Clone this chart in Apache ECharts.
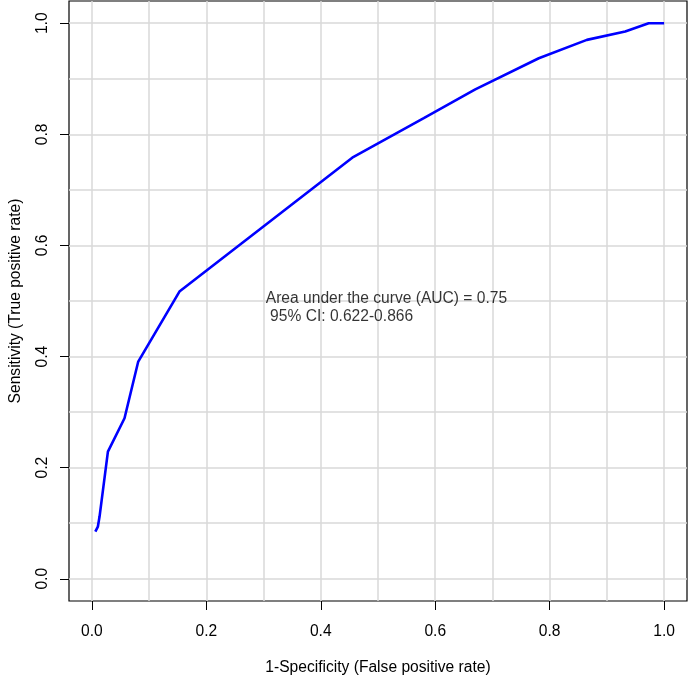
<!DOCTYPE html>
<html>
<head>
<meta charset="utf-8">
<script src="https://cdn.jsdelivr.net/npm/echarts@6/dist/echarts.min.js"></script>
<style>
html,body{margin:0;padding:0;background:#fff;}
#chart{width:690px;height:678px;}
</style>
</head>
<body>
<div id="chart"></div>
<script>
// ROC curve points
var fpr = [0.006, 0.0105, 0.0134, 0.028, 0.057, 0.081, 0.153, 0.455, 0.580, 0.670, 0.781, 0.865, 0.932, 0.973, 1.0];
var tpr = [0.085, 0.094, 0.112, 0.229, 0.289, 0.391, 0.517, 0.758, 0.829, 0.881, 0.937, 0.970, 0.985, 1.0, 1.0];
var tickLabels = [0, 0.2, 0.4, 0.6, 0.8, 1.0];
var gridValues = [0, 0.1, 0.2, 0.3, 0.4, 0.5, 0.6, 0.7, 0.8, 0.9, 1.0];
var annotationPos = [0.303, 0.488];
var annotationLines = ['Area under the curve (AUC) = 0.75', ' 95% CI: 0.622-0.866'];
var xTitle = '1-Specificity (False positive rate)';
var yTitle = 'Sensitivity (True positive rate)';

var FONT = 'Liberation Sans';
var FS = 15.6;
var chart = echarts.init(document.getElementById('chart'), null, {renderer: 'canvas'});
var rocData = fpr.map(function (x, i) { return [x, tpr[i]]; });

function mainAxis(isX) {
  return {
    type: 'value', min: -0.04, max: 1.04,
    position: isX ? 'bottom' : 'left',
    axisLine: {show: false, onZero: false},
    axisTick: {show: true, length: 9, customValues: tickLabels, lineStyle: {color: '#000', width: 1}},
    axisLabel: {
      customValues: tickLabels, formatter: function (v) { return v.toFixed(1); },
      fontFamily: FONT, fontSize: FS, color: '#000',
      margin: isX ? 23 : 18, rotate: isX ? 0 : 90
    },
    splitLine: {show: false},
    name: isX ? xTitle : yTitle,
    nameLocation: 'middle',
    nameGap: isX ? 59 : 45,
    nameTextStyle: {fontFamily: FONT, fontSize: FS, color: '#000'}
  };
}
function gridAxis(isX) {
  return {
    type: 'value', min: -0.04, max: 1.04,
    position: isX ? 'top' : 'right',
    axisLine: {show: false, onZero: false},
    axisTick: {show: false, customValues: gridValues},
    axisLabel: {show: false},
    splitLine: {show: true, lineStyle: {color: '#d9d9d9', width: 1.5}}
  };
}

chart.setOption({
  animation: false,
  backgroundColor: '#fff',
  grid: {left: 69, right: 3, top: 1, bottom: 77, show: true, borderColor: '#000', borderWidth: 1.2,
         backgroundColor: 'transparent', containLabel: false, outerBoundsMode: 'none'},
  xAxis: [mainAxis(true), gridAxis(true)],
  yAxis: [mainAxis(false), gridAxis(false)],
  series: [
    {
      type: 'line', xAxisIndex: 0, yAxisIndex: 0,
      data: rocData, showSymbol: false, symbol: 'none',
      lineStyle: {color: '#0000ff', width: 2.6}, z: 5
    },
    {
      type: 'scatter', xAxisIndex: 0, yAxisIndex: 0,
      data: [annotationPos], symbolSize: 1,
      itemStyle: {color: 'rgba(0,0,0,0)'},
      label: {
        show: true, position: 'right', distance: 0,
        formatter: annotationLines.join('\n'),
        fontFamily: FONT, fontSize: FS, lineHeight: 18.5, color: '#000', align: 'left', verticalAlign: 'middle'
      },
      z: 6, silent: true
    }
  ]
});
</script>
</body>
</html>
